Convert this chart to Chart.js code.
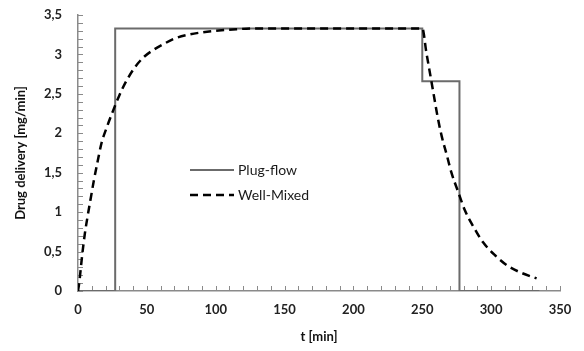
<!DOCTYPE html>
<html>
<head>
<meta charset="utf-8">
<script src="https://cdn.jsdelivr.net/npm/chart.js@4/dist/chart.umd.min.js"></script>
<style>
  html,body{margin:0;padding:0;background:#fff;}
  #wrap{width:584px;height:351px;position:relative;}
</style>
</head>
<body>
<div id="wrap"><canvas id="c" width="584" height="351"></canvas></div>
<script>
// ---- data ----
const seriesNames = ["Plug-flow", "Well-Mixed"];
const plugT = [0, 27, 27, 250, 250, 277, 277, 335];
const plugV = [0, 0, 3.33, 3.33, 2.66, 2.66, 0, 0];
const mixedT = [0, 1, 3, 5, 7, 9, 11.5, 14, 17, 21, 26, 30, 35, 41, 48, 55, 63, 70, 80, 90, 100, 115, 130, 250,
                253, 256, 258, 261, 264, 268, 271, 276, 281, 287, 294, 303, 312, 322, 333];
const mixedV = [0, 0.12, 0.45, 0.73, 0.95, 1.15, 1.40, 1.62, 1.87, 2.08, 2.31, 2.48, 2.66, 2.83, 2.97, 3.06, 3.14, 3.20, 3.25, 3.28, 3.30, 3.32, 3.33, 3.33,
                3.02, 2.72, 2.52, 2.22, 1.97, 1.71, 1.51, 1.26, 1.02, 0.82, 0.62, 0.45, 0.32, 0.23, 0.16];
const xTickStep = 50, yTickStep = 0.5;
const xMax = 350, yMax = 3.5;
const xMinorStep = 10, yMinorStep = 0.1;
const xTitle = "t [min]";
const yTitle = "Drug delivery [mg/min]";

const FONT = "Lato, 'Open Sans', 'DejaVu Sans', sans-serif";
const AXIS_COLOR = '#8a8a8a';

const toPts = (ts, vs) => ts.map((t, i) => ({x: t, y: vs[i]}));

const minorTicks = {
  id: 'minorTicks',
  beforeDatasetsDraw(chart) {
    const {ctx, chartArea, scales} = chart;
    ctx.save();
    ctx.strokeStyle = AXIS_COLOR;
    ctx.lineWidth = 1;
    ctx.beginPath();
    for (let t = 0; t <= xMax + 1e-9; t += xMinorStep) {
      const px = Math.round(scales.x.getPixelForValue(t)) + 0.5;
      ctx.moveTo(px, chartArea.bottom);
      ctx.lineTo(px, chartArea.bottom - 5);
    }
    for (let v = 0; v <= yMax + 1e-9; v += yMinorStep) {
      const py = Math.round(scales.y.getPixelForValue(v)) + 0.5;
      ctx.moveTo(chartArea.left, py);
      ctx.lineTo(chartArea.left + 5, py);
    }
    ctx.stroke();
    ctx.restore();
  }
};

const innerLegend = {
  id: 'innerLegend',
  afterDatasetsDraw(chart) {
    const {ctx} = chart;
    ctx.save();
    ctx.font = "14px " + FONT;
    ctx.textBaseline = 'middle';
    ctx.fillStyle = '#1a1a1a';
    const rows = [170, 195];
    const ds = [chart.data.datasets[1], chart.data.datasets[0]]; // Plug-flow, Well-Mixed
    ds.forEach((d, i) => {
      const y = rows[i];
      ctx.beginPath();
      ctx.strokeStyle = d.borderColor;
      ctx.lineWidth = d.borderWidth;
      ctx.setLineDash(d.borderDash || []);
      ctx.moveTo(190, y);
      ctx.lineTo(234, y);
      ctx.stroke();
      ctx.setLineDash([]);
      ctx.fillText(d.label, 238, y);
    });
    ctx.restore();
  }
};

new Chart(document.getElementById('c'), {
  type: 'line',
  data: {
    datasets: [
      {
        label: seriesNames[1],
        data: toPts(mixedT, mixedV),
        borderColor: '#000000',
        borderWidth: 2.5,
        borderDash: [8, 5],
        pointRadius: 0,
        fill: false,
        cubicInterpolationMode: 'monotone'
      },
      {
        label: seriesNames[0],
        data: toPts(plugT, plugV),
        borderColor: '#6b6b6b',
        borderWidth: 2,
        pointRadius: 0,
        fill: false,
        tension: 0
      }
    ]
  },
  options: {
    responsive: false,
    animation: false,
    devicePixelRatio: 1,
    layout: {padding: {top: 15, right: 24, left: 0, bottom: 0}},
    plugins: {legend: {display: false}, tooltip: {enabled: false}},
    scales: {
      x: {
        type: 'linear',
        min: 0, max: xMax,
        ticks: {stepSize: xTickStep, padding: 11, color: '#222', font: {family: FONT, size: 13, weight: 'bold'}, maxRotation: 0},
        grid: {drawOnChartArea: false, drawTicks: false},
        border: {color: AXIS_COLOR, width: 1.5},
        title: {display: true, text: xTitle, color: '#111', font: {family: FONT, size: 13, weight: 'bold'}, padding: {top: 4, bottom: 6}},
        afterFit(s) { s.height = 60; s.paddingLeft = 0; s.paddingRight = 0; }
      },
      y: {
        min: 0, max: yMax,
        ticks: {stepSize: yTickStep, padding: 16, color: '#222', font: {family: FONT, size: 13, weight: 'bold'},
                callback: v => String(v).replace('.', ',')},
        grid: {drawOnChartArea: false, drawTicks: false},
        border: {color: AXIS_COLOR, width: 1.5},
        title: {display: true, text: yTitle, color: '#111', font: {family: FONT, size: 13, weight: 'bold'}, padding: {top: 13, bottom: 0}},
        afterFit(s) { s.width = 78; s.paddingTop = 0; s.paddingBottom = 0; }
      }
    }
  },
  plugins: [minorTicks, innerLegend]
});
</script>
</body>
</html>
